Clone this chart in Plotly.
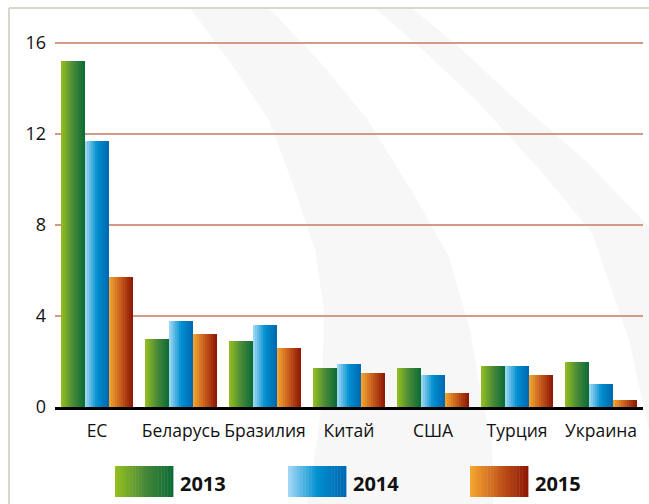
import plotly.graph_objects as go

categories = ["ЕС", "Беларусь", "Бразилия", "Китай", "США", "Турция", "Украина"]
years = ["2013", "2014", "2015"]
v2013 = [15.2, 3.0, 2.9, 1.7, 1.7, 1.8, 2.0]
v2014 = [11.7, 3.8, 3.6, 1.9, 1.4, 1.8, 1.0]
v2015 = [5.7, 3.2, 2.6, 1.5, 0.6, 1.4, 0.3]
y_ticks = [0, 4, 8, 12, 16]

series = [v2013, v2014, v2015]
gradients = [
    ["#97c11f", "#4a8a38", "#0a6a36"],
    ["#a8daf6", "#0090d0", "#0066b0"],
    ["#f5a830", "#c65a1c", "#8c1402"],
]

W, H = 649, 504
PPU = 22.75            # pixels per unit on the value axis
YTOP = 16 + 4 / PPU    # small headroom so the 16 gridline is drawn
ML, MR, MB = 55, 6, 97
PH = round(YTOP * PPU)
MT = H - MB - PH
PW = W - ML - MR


def hex2rgb(h):
    h = h.lstrip("#")
    return [int(h[i:i + 2], 16) for i in (0, 2, 4)]


def interp(stops, t):
    n = len(stops) - 1
    pos = t * n
    i = min(int(pos), n - 1)
    f = pos - i
    a, b = hex2rgb(stops[i]), hex2rgb(stops[i + 1])
    c = [round(a[k] + (b[k] - a[k]) * f) for k in range(3)]
    return "rgb(%d,%d,%d)" % tuple(c)


N = 12
group = 72 / 84
bw = group / 3
fig = go.Figure()
for s, vals in enumerate(series):
    for k in range(N):
        t = (k + 0.5) / N
        fig.add_trace(go.Bar(
            x=categories, y=vals,
            width=bw / N,
            offset=-group / 2 + s * bw + k * bw / N,
            marker=dict(color=interp(gradients[s], t), line=dict(width=0)),
            showlegend=False, hoverinfo="skip",
        ))


def px(x, y):
    return (x - ML) / PW, (H - MB - y) / PH


def path(points):
    pts = [px(x, y) for x, y in points]
    return "M " + " L ".join("%.4f,%.4f" % p for p in pts) + " Z"


shapes = []
# faint background swooshes
bandA_left = [(190, 8), (230, 62), (269, 120), (295, 190), (315, 250), (324, 310), (322, 400), (317, 440), (307, 504)]
bandA_right = [(493, 504), (492, 440), (482, 400), (470, 330), (449, 257), (417, 200), (368, 120), (320, 62), (269, 8)]
shapes.append(dict(type="path", xref="paper", yref="paper", layer="below",
                   path=path(bandA_left + bandA_right), fillcolor="#f7f7f7", line=dict(width=0)))
bandB_left = [(375, 8), (425, 52), (476, 100), (540, 170), (592, 233), (629, 340), (649, 430)]
bandB_right = [(649, 227), (585, 160), (516, 100), (460, 48), (412, 8)]
shapes.append(dict(type="path", xref="paper", yref="paper", layer="below",
                   path=path(bandB_left + bandB_right), fillcolor="#f7f7f7", line=dict(width=0)))
# frame lines
x0, y0 = px(9, 8)
x1, _ = px(649, 8)
_, y1 = px(9, 504)
shapes.append(dict(type="line", xref="paper", yref="paper", x0=x0, x1=x1, y0=y0, y1=y0,
                   line=dict(color="#d6d8cb", width=2), layer="below"))
shapes.append(dict(type="line", xref="paper", yref="paper", x0=x0, x1=x0, y0=y0, y1=y1,
                   line=dict(color="#d6d8cb", width=2), layer="below"))

# legend with gradient boxes
legend_boxes = [(115, 173), (288, 346), (470, 528)]
annotations = []
for s, (bx0, bx1) in enumerate(legend_boxes):
    M = 20
    for k in range(M):
        a = bx0 + (bx1 - bx0) * k / M
        b = bx0 + (bx1 - bx0) * (k + 1) / M + 0.4
        ax0, ay0 = px(a, 497)
        ax1, ay1 = px(b, 466)
        shapes.append(dict(type="rect", xref="paper", yref="paper", x0=ax0, x1=ax1, y0=ay0, y1=ay1,
                           fillcolor=interp(gradients[s], (k + 0.5) / M), line=dict(width=0)))
    tx, ty = px(bx1 + 5, 483)
    annotations.append(dict(xref="paper", yref="paper", x=tx, y=ty, xanchor="left", yanchor="middle",
                            text="<b>%s</b>" % years[s], showarrow=False,
                            font=dict(family="Open Sans", size=20, color="#111111")))

fig.update_layout(
    width=W, height=H,
    margin=dict(l=ML, r=MR, t=MT, b=MB, pad=0, autoexpand=False),
    paper_bgcolor="#ffffff",
    plot_bgcolor="rgba(0,0,0,0)",
    barmode="overlay",
    bargap=0,
    showlegend=False,
    shapes=shapes,
    annotations=annotations,
    font=dict(family="Open Sans", color="#111111"),
    xaxis=dict(
        type="category", showgrid=False, showline=True, linecolor="#000000", linewidth=3,
        ticks="", tickfont=dict(size=17.5, color="#111111"), ticklabelstandoff=6,
        tickangle=0, automargin=False,
        range=[-0.5, len(categories) - 0.5], fixedrange=True,
    ),
    yaxis=dict(
        range=[0, YTOP], tickvals=y_ticks, ticktext=[str(v) for v in y_ticks],
        showgrid=True, gridcolor="#d49a88", gridwidth=2, zeroline=False, showline=False,
        ticks="", tickfont=dict(size=18, color="#111111"), ticklabelstandoff=8, fixedrange=True,
        automargin=False,
    ),
)

fig.write_html("out.html", config={"displayModeBar": False},
               post_script="document.body.style.margin='0';document.body.style.padding='0';")
